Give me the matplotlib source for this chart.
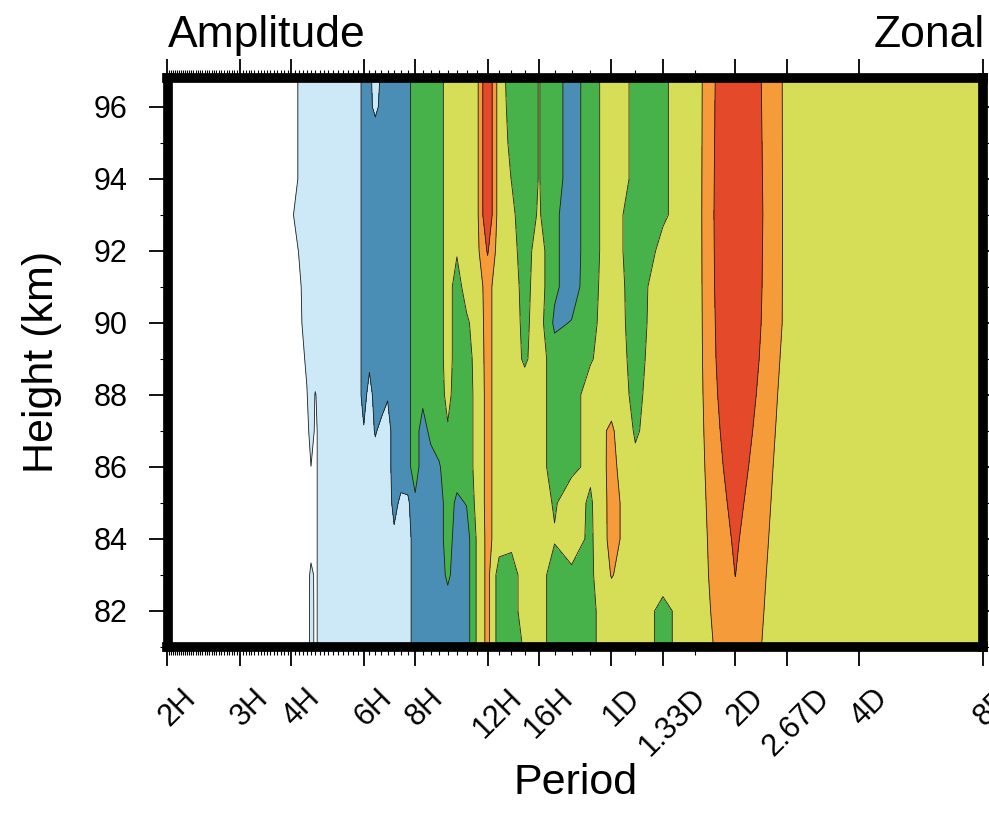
import numpy as np
import matplotlib
matplotlib.use("Agg")
import matplotlib.pyplot as plt
import matplotlib.transforms as mtransforms
from matplotlib.ticker import NullFormatter, FixedLocator

plt.rcParams['font.family'] = ['Liberation Sans', 'DejaVu Sans']

# spectral frequency index k (period = 8 days / k); frequency in cycles/day = k/8
freq_index = [96, 64, 48, 46, 44, 43, 42, 40, 36, 33, 32, 31, 30, 29, 28, 27,
              26, 25, 24, 23, 22, 21, 20, 19, 18, 17, 16, 15, 14, 13, 12, 11,
              10, 9, 8, 7, 6, 5, 4, 3, 2, 1]
heights_km = [81, 82, 83, 84, 85, 86, 87, 88, 89, 90, 91, 92, 93, 94, 95, 96, 97]

# amplitude (contour class units), one row per height, one value per frequency index
amp_81 = [0.2, 0.3, 0.4, 0.4, 0.5, 1.3, 0.85, 1.5, 1.5, 1.5, 1.5, 1.5, 1.5, 1.5, 1.5, 1.5, 1.5, 1.6, 2.5, 2.5, 2.5, 2.5, 2.5, 2.5, 2.5, 4.1, 5.3, 3.5, 3.5, 4.1, 4.5, 3.5, 3.5, 3.8, 4.5, 4.5, 3.8, 4.45, 5.6, 4.5, 4.5, 4.5]
amp_82 = [0.2, 0.3, 0.4, 0.4, 0.5, 1.3, 0.85, 1.5, 1.5, 1.5, 1.5, 1.5, 1.5, 1.5, 1.5, 1.5, 1.5, 1.6, 2.5, 2.5, 2.5, 2.5, 2.5, 2.5, 2.5, 4.1, 5.3, 3.5, 3.5, 4.5, 4.5, 3.5, 3.5, 3.8, 4.5, 4.5, 3.8, 4.45, 5.8, 4.45, 4.5, 4.5]
amp_83 = [0.2, 0.3, 0.4, 0.4, 0.5, 1.25, 0.85, 1.5, 1.5, 1.5, 1.5, 1.5, 1.5, 1.5, 1.5, 1.5, 1.5, 1.6, 2.5, 2.5, 2.5, 2.5, 3.2, 2.5, 2.5, 4.1, 5.3, 3.5, 3.5, 4.5, 4.5, 3.5, 3.8, 3.8, 5.05, 4.5, 4.3, 4.45, 6.01, 4.42, 4.5, 4.5]
amp_84 = [0.2, 0.3, 0.4, 0.4, 0.5, 0.5, 0.85, 1.5, 1.5, 1.5, 1.5, 1.5, 1.5, 1.5, 1.5, 1.8, 1.5, 1.6, 2.5, 2.5, 2.5, 2.5, 3.5, 2.5, 2.5, 4.1, 5.3, 4.5, 4.3, 4.5, 4.5, 4.08, 4.5, 3.8, 5.3, 4.5, 4.5, 4.45, 6.15, 4.46, 4.5, 4.5]
amp_85 = [0.2, 0.3, 0.4, 0.4, 0.5, 0.5, 0.85, 1.5, 1.5, 1.5, 1.5, 1.5, 1.5, 1.5, 1.5, 2.3, 1.8, 1.8, 2.8, 2.5, 2.5, 2.5, 3.5, 2.8, 3.05, 4.3, 5.3, 4.5, 4.5, 4.5, 4.5, 3.9, 4.5, 3.85, 5.3, 4.5, 4.5, 4.45, 6.35, 4.48, 4.5, 4.5]
amp_86 = [0.2, 0.3, 0.4, 0.4, 0.5, 0.99, 0.85, 1.5, 1.5, 1.5, 1.5, 1.5, 1.5, 1.5, 1.5, 2.5, 2.5, 2.7, 3.5, 2.5, 2.5, 2.9, 3.5, 3.5, 3.5, 4.3, 5.3, 4.5, 4.5, 4.5, 4.5, 3.5, 3.8, 4.2, 5.25, 4.2, 4.5, 4.45, 6.6, 4.5, 4.5, 4.5]
amp_87 = [0.2, 0.3, 0.4, 0.4, 0.6, 1.5, 0.85, 1.5, 1.5, 1.5, 1.9, 1.5, 2.1, 1.7, 1.5, 2.5, 2.5, 2.7, 3.5, 2.5, 3.3, 3.5, 3.9, 3.5, 3.5, 4.3, 5.3, 4.5, 4.5, 4.5, 4.5, 3.5, 3.5, 4.5, 5.15, 3.9, 4.5, 4.45, 6.85, 4.55, 4.5, 4.5]
amp_88 = [0.2, 0.3, 0.4, 0.4, 0.95, 1.5, 0.95, 1.5, 1.5, 1.5, 2.5, 1.5, 2.5, 2.5, 2.1, 2.5, 2.5, 2.7, 3.5, 3.3, 3.5, 3.5, 4.3, 3.5, 3.5, 4.3, 5.3, 4.5, 4.5, 4.5, 4.5, 3.5, 3.5, 4.5, 4.6, 3.8, 4.5, 4.45, 7.1, 4.61, 4.5, 4.5]
amp_89 = [0.2, 0.3, 0.4, 0.6, 1.15, 1.5, 1.5, 1.5, 1.5, 1.5, 2.5, 2.3, 2.5, 2.5, 2.5, 2.5, 2.5, 2.7, 3.5, 3.5, 3.5, 3.5, 4.5, 3.5, 3.5, 4.4, 5.3, 4.5, 4.5, 3.85, 4.5, 3.5, 3.5, 3.9, 4.6, 3.7, 4.5, 4.45, 7.3, 4.7, 4.5, 4.5]
amp_90 = [0.2, 0.3, 0.4, 0.7, 1.5, 1.5, 1.5, 1.5, 1.5, 1.5, 2.5, 2.5, 2.5, 2.5, 2.5, 2.5, 2.5, 2.7, 3.5, 3.5, 3.5, 3.5, 4.5, 3.5, 3.8, 4.5, 5.3, 4.5, 4.5, 3.75, 4.5, 2.8, 3.05, 3.7, 4.6, 3.6, 4.5, 4.45, 7.4, 4.8, 4.5, 4.5]
amp_91 = [0.2, 0.3, 0.4, 0.8, 1.5, 1.5, 1.5, 1.5, 1.5, 1.5, 2.5, 2.5, 2.5, 2.5, 2.5, 2.5, 2.5, 2.7, 3.5, 3.5, 3.5, 3.5, 4.5, 3.5, 4.5, 4.6, 5.3, 4.5, 4.5, 3.65, 4.5, 3.2, 2.5, 3.6, 4.6, 3.55, 4.5, 4.45, 7.5, 4.8, 4.5, 4.5]
amp_92 = [0.2, 0.3, 0.4, 1.05, 1.5, 1.5, 1.5, 1.5, 1.5, 1.5, 2.5, 2.5, 2.5, 2.5, 2.5, 2.5, 2.5, 2.7, 3.5, 3.5, 3.5, 3.5, 4.5, 4.1, 4.5, 4.7, 6.1, 4.5, 4.4, 3.5, 4.5, 3.2, 2.5, 3.5, 4.6, 3.4, 4.2, 4.45, 7.55, 4.8, 4.5, 4.5]
amp_93 = [0.2, 0.3, 0.8, 1.5, 1.5, 1.5, 1.5, 1.5, 1.5, 1.5, 2.5, 2.5, 2.5, 2.5, 2.5, 2.5, 2.5, 2.7, 3.5, 3.5, 3.5, 3.5, 4.5, 4.5, 4.5, 4.7, 7.0, 4.5, 4.2, 3.5, 4.1, 3.2, 2.5, 3.5, 4.6, 3.4, 3.9, 4.45, 7.6, 4.8, 4.5, 4.5]
amp_94 = [0.2, 0.3, 0.4, 1.1, 1.5, 1.5, 1.5, 1.5, 1.5, 1.5, 2.5, 2.5, 2.5, 2.5, 2.5, 2.5, 2.5, 2.7, 3.5, 3.5, 3.5, 3.5, 4.5, 4.5, 4.5, 4.7, 7.0, 4.5, 3.98, 3.5, 4.03, 3.5, 2.5, 3.5, 4.6, 3.8, 3.9, 4.45, 7.55, 4.8, 4.5, 4.5]
amp_95 = [0.2, 0.3, 0.4, 1.1, 1.5, 1.5, 1.5, 1.5, 1.5, 1.5, 2.5, 2.5, 2.5, 2.5, 2.5, 2.5, 2.5, 2.7, 3.5, 3.5, 3.5, 3.5, 4.5, 4.5, 4.5, 4.7, 7.0, 4.5, 3.8, 3.5, 4.03, 3.5, 2.5, 3.5, 4.6, 3.8, 3.9, 4.45, 7.5, 4.8, 4.5, 4.5]
amp_96 = [0.2, 0.3, 0.4, 1.1, 1.5, 1.5, 1.5, 1.5, 1.5, 1.5, 2.5, 2.2, 1.8, 2.2, 2.5, 2.5, 2.5, 2.7, 3.5, 3.5, 3.5, 3.5, 4.5, 4.5, 4.5, 4.7, 7.0, 4.5, 3.65, 3.5, 4.03, 3.5, 2.5, 3.5, 4.6, 3.8, 3.9, 4.45, 7.45, 4.8, 4.5, 4.5]
amp_97 = [0.2, 0.3, 0.4, 1.1, 1.5, 1.5, 1.5, 1.5, 1.5, 1.5, 2.5, 2.2, 1.6, 2.1, 2.5, 2.5, 2.5, 2.7, 3.5, 3.5, 3.5, 3.5, 4.5, 4.5, 4.5, 4.7, 7.0, 4.5, 3.5, 3.5, 4.03, 3.5, 2.5, 3.5, 4.6, 3.8, 3.9, 4.45, 7.4, 4.8, 4.5, 4.5]
amplitude = [amp_81, amp_82, amp_83, amp_84, amp_85, amp_86, amp_87, amp_88, amp_89,
             amp_90, amp_91, amp_92, amp_93, amp_94, amp_95, amp_96, amp_97]

levels = [0, 1, 2, 3, 4, 5, 6, 8]
fill_colors = ['#ffffff', '#cde9f7', '#4a8eb6', '#47b24a', '#d6de58', '#f59b39', '#e4492a']

major_k = [96, 64, 48, 32, 24, 16, 12, 8, 6, 4, 3, 2, 1]
major_labels = ['2H', '3H', '4H', '6H', '8H', '12H', '16H', '1D', '1.33D', '2D', '2.67D', '4D', '8D']
height_ticks = [82, 84, 86, 88, 90, 92, 94, 96]

W, H = 989, 813
fig = plt.figure(figsize=(W / 100, H / 100), dpi=100)
x0, x1, ytop, ybot = 167.5, 983.0, 78.0, 647.0
ax = fig.add_axes([x0 / W, 1 - ybot / H, (x1 - x0) / W, (ybot - ytop) / H])

freq = np.array(freq_index, dtype=float) / 8.0
Z = np.array(amplitude)
ax.contourf(freq, heights_km, Z, levels=levels, colors=fill_colors)
ax.contour(freq, heights_km, Z, levels=levels[1:-1], colors='#1e1e1e', linewidths=0.6)

ax.set_xscale('log')
ax.set_xlim(12.0, 0.125)
ax.set_ylim(81.12, 96.8)

ax.xaxis.set_major_locator(FixedLocator([k / 8 for k in major_k]))
ax.xaxis.set_minor_locator(FixedLocator([k / 8 for k in range(1, 97) if k not in major_k]))
ax.set_xticklabels(major_labels, rotation=45, ha='center', va='top', fontsize=22)
ax.xaxis.set_minor_formatter(NullFormatter())
ax.set_yticks(height_ticks)
ax.set_yticks([h for h in range(81, 97) if h not in height_ticks], minor=True)
ax.set_yticklabels([str(h) for h in height_ticks], fontsize=22)

ax.tick_params(which='both', direction='out', top=True, right=True, labeltop=False, labelright=False)
ax.tick_params(which='major', length=14, width=1.3)
ax.tick_params(which='minor', length=6, width=0.8)
ax.tick_params(axis='x', which='major', pad=12)
ax.tick_params(axis='y', which='major', pad=15)

shift = mtransforms.ScaledTranslation(10 / 100, 0, fig.dpi_scale_trans)
for lab in ax.get_xticklabels():
    lab.set_transform(lab.get_transform() + shift)

for sp in ax.spines.values():
    sp.set_linewidth(7)
    sp.set_capstyle('projecting')
    sp.set_zorder(5)

fig.text(x0 / W, 1 - 47 / H, 'Amplitude', fontsize=32, ha='left', va='baseline')
fig.text(985 / W, 1 - 47 / H, 'Zonal', fontsize=32, ha='right', va='baseline')
fig.text((x0 + x1) / 2 / W, 1 - 783 / H, 'Period', fontsize=31, ha='center', va='center')
fig.text(42 / W, 1 - 362 / H, 'Height (km)', fontsize=31, ha='center', va='center', rotation=90)

fig.savefig('out.png', dpi=100)
